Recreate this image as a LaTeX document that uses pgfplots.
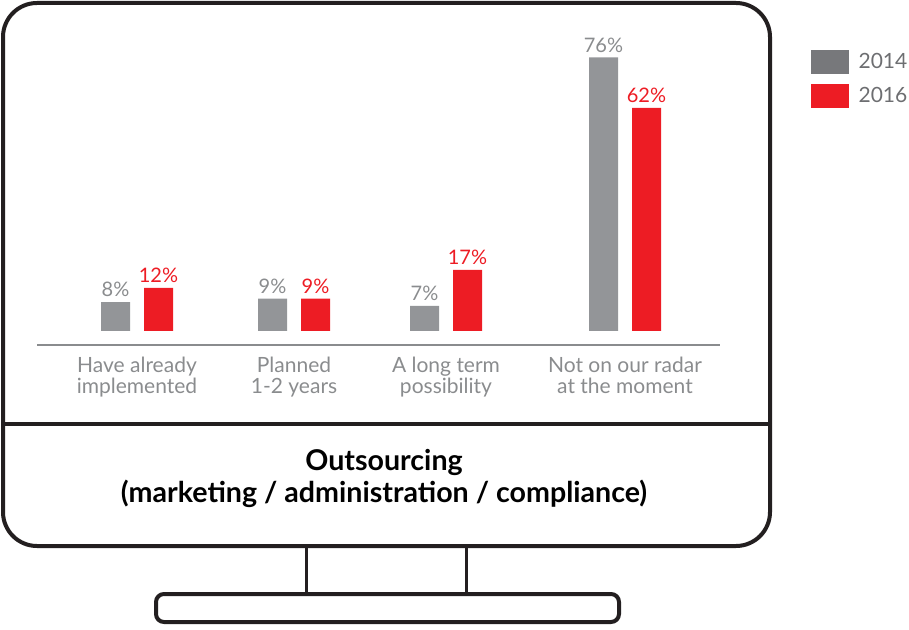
\documentclass[border=0pt]{standalone}
\usepackage{pgfplots}
\pgfplotsset{compat=1.18}
\usepackage{fontspec}
\setmainfont{Lato}

\definecolor{barGray}{HTML}{939598}
\definecolor{legGray}{HTML}{77787B}
\definecolor{txtGray}{HTML}{8A8C8E}
\definecolor{legText}{HTML}{6D6E71}
\definecolor{brandRed}{HTML}{ED1C24}
\definecolor{frame}{HTML}{231F20}

\begin{document}
\begin{tikzpicture}
% monitor outline, in pixel units of the reference
\begin{scope}[x=0.5pt,y=-0.5pt]
  \useasboundingbox (0,0) rectangle (909,630);
  \draw[frame, line width=2pt, rounded corners=17pt] (3,3) rectangle (770,546);
  \draw[frame, line width=2pt] (3,424) -- (770,424);
  \draw[frame, line width=1.5pt] (306,546) -- (306,594) (466,546) -- (466,594);
  \draw[frame, line width=2pt, rounded corners=4pt] (156,594) rectangle (619,622);
  \node[font=\bfseries\fontsize{14.3}{16}\selectfont, align=center, text=black]
    at (384,478) {Outsourcing\\(marketing / administration / compliance)};
\end{scope}

\begin{axis}[
  at={(18.5pt,-172.5pt)}, anchor=south west,
  scale only axis, width=341.5pt, height=151pt,
  xmin=37, xmax=720, ymin=-3.9, ymax=80,
  ybar, bar width=14.5pt,
  axis x line*=bottom, axis y line=none,
  x axis line style={txtGray, line width=1pt},
  xtick={137,294,446,625},
  xticklabels={{Have already\\implemented},{Planned\\1-2 years},{A long term\\possibility},{Not on our radar\\at the moment}},
  xticklabel style={align=center, text=txtGray, font=\fontsize{10.5}{10.5}\selectfont, yshift=-2.5pt},
  major tick length=0pt,
  clip=false,
  nodes near coords={\pgfmathprintnumber{\pgfplotspointmeta}\%},
  /pgf/number format/assume math mode=true,
  every node near coord/.append style={font=\fontsize{10}{11}\selectfont, yshift=-1pt},
  legend style={at={(1.132,0.977)}, anchor=north west, draw=none, fill=none,
    font=\fontsize{10.5}{12}\selectfont, text=legText, row sep=5pt, inner sep=0pt,
    column sep=0pt, nodes={inner sep=0pt, anchor=west}},
  legend image code/.code={\fill[#1] (0pt,-6pt) rectangle (19pt,6pt); \path (24pt,0pt);},
]
\addplot[fill=barGray, draw=none, bar shift=-10.75pt,
  every node near coord/.append style={text=txtGray}, forget plot]
  coordinates {(137,8) (294,9) (446,7) (625,76)};
\addplot[fill=brandRed, draw=none, bar shift=10.75pt,
  every node near coord/.append style={text=brandRed}, forget plot]
  coordinates {(137,12) (294,9) (446,17) (625,62)};
\addlegendimage{fill=legGray, draw=none}
\addlegendentry{2014}
\addlegendimage{fill=brandRed, draw=none}
\addlegendentry{2016}
\end{axis}
\end{tikzpicture}
\end{document}
